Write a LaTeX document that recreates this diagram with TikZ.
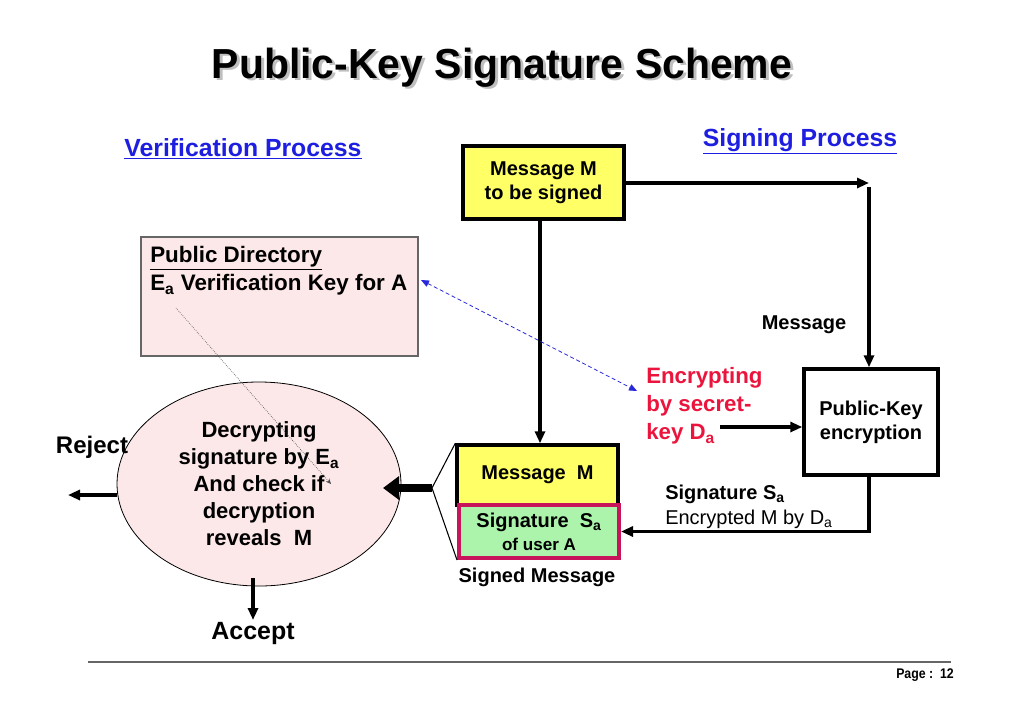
\documentclass[tikz,border=0pt]{standalone}
\usepackage{fontspec}
\setmainfont{Liberation Sans}
\usetikzlibrary{arrows.meta,shapes.geometric}
\definecolor{hblue}{RGB}{30,30,225}
\definecolor{yel}{RGB}{255,255,102}
\definecolor{grn}{RGB}{172,244,172}
\definecolor{mag}{RGB}{200,20,90}
\definecolor{pinkf}{RGB}{252,232,232}
\definecolor{redt}{RGB}{235,20,60}
\definecolor{dblue}{RGB}{40,40,220}
\newcommand{\fsz}[2]{\fontsize{#1}{#2}\selectfont}
\newcommand{\ttlshadow}[1]{\makebox[0pt][l]{\hspace{2.2pt}\raisebox{-2.2pt}{\textcolor{gray!50}{#1}}}#1}
\begin{document}
\begin{tikzpicture}[x=0.75pt,y=-0.75pt,
  box/.style={draw, line width=2.6pt, inner sep=0pt, align=center, font=\bfseries\fsz{15}{18}},
  conn/.style={line width=2.3pt, -{Triangle[length=9pt,width=7.5pt]}},
  lbl/.style={font=\bfseries\fsz{15}{18}, inner sep=0pt},
  head/.style={font=\bfseries\fsz{18.6}{22}, text=hblue, inner sep=0pt, anchor=base}
]
\useasboundingbox (0,0) rectangle (1024,711);

% title
\node[font=\bfseries\fsz{31.5}{36}, anchor=base, inner sep=0pt] (title) at (502,78) {\scalebox{0.975}[1]{\ttlshadow{Public-Key Signature Scheme}}};

\node[head] (sp) at (800,146) {\underline{Signing Process}};
\node[head] (vp) at (243,156) {\underline{Verification Process}};

% boxes
\node[box, fill=yel, minimum width=161*0.75pt, minimum height=73*0.75pt, execute at begin node={\baselineskip=18pt}] (msgtop) at (543.5,182.5) {Message M\\to be signed};
\node[box, fill=white, minimum width=134*0.75pt, minimum height=106*0.75pt, execute at begin node={\baselineskip=18pt}] (pke) at (871,422) {Public-Key\\encryption};
\node[box, fill=yel, minimum width=161*0.75pt, minimum height=60*0.75pt] (msgM) at (537.5,475) {Message~~M};
\node[box, draw=mag, line width=3pt, fill=grn, minimum width=160*0.75pt, minimum height=53*0.75pt, execute at begin node={\baselineskip=17pt}] (sig) at (539,531.5) {Signature~~S\textsubscript{a}\\{\fsz{12.8}{15}of user A}};

\node[draw=gray!80!black, line width=0.8pt, fill=pinkf, minimum width=277*0.75pt, minimum height=119*0.75pt, inner sep=0pt] (pubdir) at (279.5,296.5) {};
\node[font=\bfseries\fsz{16.8}{20}, anchor=west, inner sep=0pt] (pd1) at (150,258) {\underline{Public Directory}};
\node[font=\bfseries\fsz{16.8}{20}, anchor=west, inner sep=0pt] (pd2) at (150,285) {E\textsubscript{a} Verification Key for A};

\node[ellipse, draw, line width=0.6pt, fill=pinkf, minimum width=284*0.75pt, minimum height=204*0.75pt, inner sep=0pt, align=center, font=\bfseries\fsz{16.5}{20.25}] (ell) at (259,484) {Decrypting\\signature by E\textsubscript{a}\\And check if\\decryption\\reveals~~M};

% labels
\node[lbl] (msglbl) at (804,325) {Message};
\node[font=\bfseries\fsz{16.7}{21}, text=redt, anchor=west, align=left, inner sep=0pt] (enc) at (646,406) {Encrypting\\by secret-\\key D\textsubscript{a}};
\node[font=\fsz{15}{18.75}, anchor=west, align=left, inner sep=0pt] (sigtxt) at (665,507) {\textbf{Signature S\textsubscript{a}}\\Encrypted M by D\textsubscript{a}};
\node[lbl] (signed) at (537,577) {Signed Message};
\node[font=\bfseries\fsz{18}{22}, inner sep=0pt] (reject) at (92,447) {Reject};
\node[font=\bfseries\fsz{18.7}{22}, inner sep=0pt] (accept) at (253,633) {Accept};
\node[font=\bfseries\fsz{10.5}{12}, inner sep=0pt] (page) at (925,675) {\scalebox{0.88}[1]{Page :~~12}};

% coordinates
\coordinate (c1) at (869,183);
\coordinate (c2) at (869,187);
\coordinate (encEnd) at (720,427);
\coordinate (br) at (432,488);
\coordinate (tip) at (383,488);
\coordinate (rj) at (68,495);
\coordinate (acS) at (253,578);
\coordinate (acE) at (253,620);
\coordinate (pdA) at (421,280);
\coordinate (encA) at (637,391);
\coordinate (dA) at (176,308);
\coordinate (dB) at (331,484);
\coordinate (l1) at (88,662);
\coordinate (l2) at (951,662);

% connectors
\draw[conn] (msgtop.east |- c1) -- (c1);
\draw[conn] (c2) -- (c2 |- pke.north);
\draw[conn] (encEnd) -- (encEnd -| pke.west);
\draw[conn] (pke.south -| c2) |- (sig.east);
\draw[conn] (msgtop.south -| 540,0) -- (msgM.north -| 540,0);
\draw[line width=0.8pt] (msgM.north west) -- (br) -- (sig.south west);
\draw[line width=6pt, -{Triangle[length=12pt,width=17pt]}] (br) -- (tip);
\draw[conn] (ell.west |- rj) -- (rj);
\draw[conn] (acS) -- (acE);
\draw[dblue, line width=0.6pt, dash pattern=on 3pt off 2pt, {Triangle[length=6pt,width=5pt]}-{Triangle[length=6pt,width=5pt]}] (pdA) -- (encA);
\draw[black!70, line width=0.5pt, densely dotted, -{Stealth[length=4pt,width=3.5pt]}] (dA) -- (dB);
\draw[gray!80!black, line width=1.1pt] (l1) -- (l2);
\end{tikzpicture}
\end{document}
